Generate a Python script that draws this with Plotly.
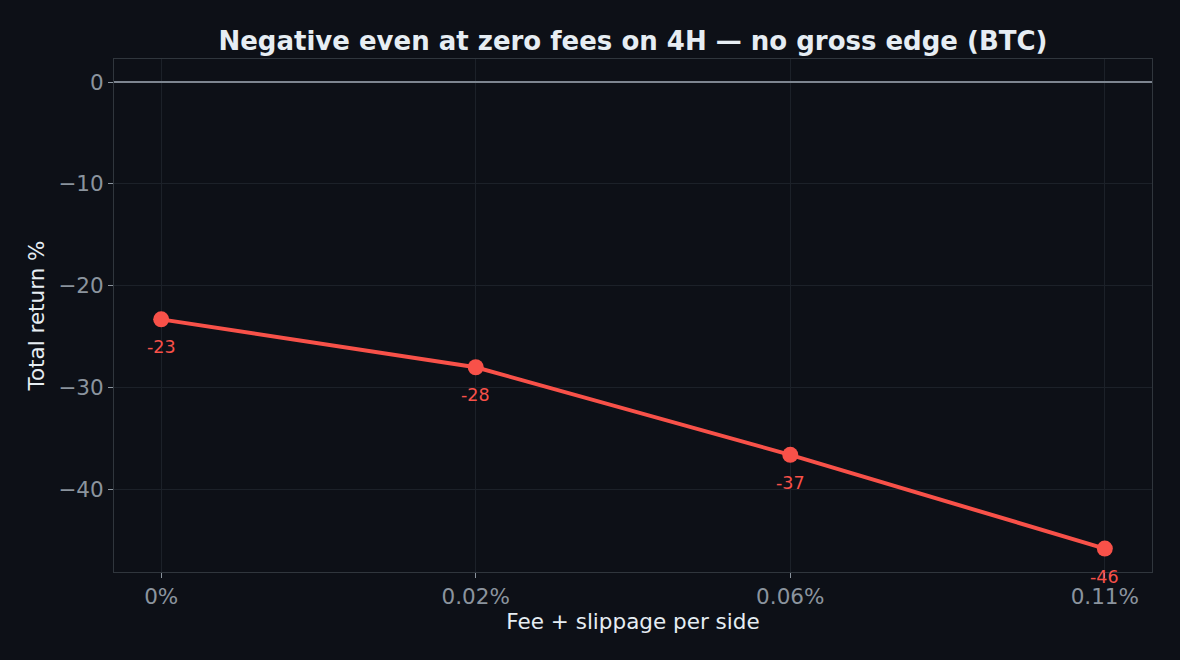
import plotly.graph_objects as go

# fee + slippage levels and resulting total return (BTC, 4H)
fee_labels = ["0%", "0.02%", "0.06%", "0.11%"]
total_return = [-23.3, -28.0, -36.6, -45.8]

y_ticks = [0, -10, -20, -30, -40]
y_tick_text = ["0", "\u221210", "\u221220", "\u221230", "\u221240"]

BG = "#0d1017"
GRID = "#1c2129"
SPINE = "#30363d"
MUTED = "#8b949e"
LIGHT = "#e6edf3"
RED = "#f85149"

fig = go.Figure()
fig.add_trace(go.Scatter(
    x=fee_labels,
    y=total_return,
    mode="lines+markers",
    line=dict(color=RED, width=4),
    marker=dict(color=RED, size=16),
    hoverinfo="x+y",
))

for x, y in zip(fee_labels, total_return):
    fig.add_annotation(
        x=x, y=y, text=f"{y:.0f}", showarrow=False, yshift=-28,
        font=dict(family="DejaVu Sans", size=17.5, color=RED),
    )

fig.update_layout(
    width=1180,
    height=660,
    paper_bgcolor=BG,
    plot_bgcolor=BG,
    margin=dict(l=114, r=28, t=59, b=88),
    showlegend=False,
    font=dict(family="DejaVu Sans", color=MUTED),
    title=dict(
        text="<b>Negative even at zero fees on 4H \u2014 no gross edge (BTC)</b>",
        x=0.5364, xanchor="center", y=1 - 41 / 660, yanchor="middle",
        font=dict(family="DejaVu Sans", size=26, color=LIGHT),
    ),
)
fig.update_xaxes(
    type="category",
    range=[-0.15, 3.15],
    showgrid=True, gridcolor=GRID, gridwidth=1,
    showline=True, linecolor=SPINE, linewidth=1.2, mirror=True,
    ticks="outside", ticklen=5, tickcolor=MUTED,
    tickfont=dict(size=21.5, color=MUTED),
    title=dict(text="Fee + slippage per side", standoff=6,
               font=dict(size=21.5, color=LIGHT)),
    zeroline=False,
)
fig.update_yaxes(
    range=[-48.1, 2.26],
    tickvals=y_ticks, ticktext=y_tick_text,
    showgrid=True, gridcolor=GRID, gridwidth=1,
    showline=True, linecolor=SPINE, linewidth=1.2, mirror=True,
    ticks="outside", ticklen=5, tickcolor=MUTED,
    tickfont=dict(size=21.5, color=MUTED),
    title=dict(text="Total return %", standoff=7,
               font=dict(size=21.5, color=LIGHT)),
    zeroline=True, zerolinecolor="#7d8590", zerolinewidth=1.5,
)

fig.write_html(
    "out.html",
    config={"displayModeBar": False},
    post_script="document.body.style.margin='0';"
                "document.body.style.background='#0d1017';",
)
